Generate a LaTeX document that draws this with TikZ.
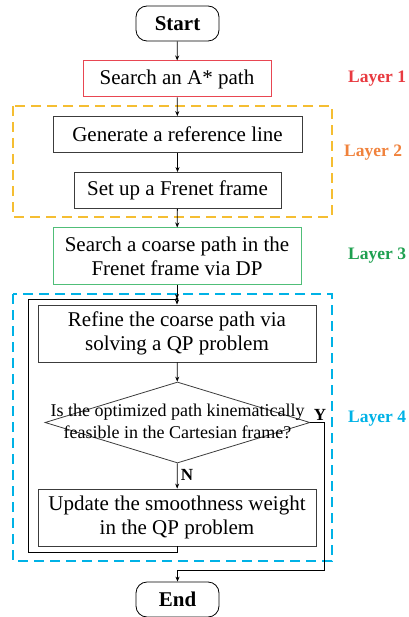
\documentclass[tikz,border=0pt]{standalone}
\usepackage{fontspec}
\setmainfont{Liberation Serif}
\usetikzlibrary{arrows.meta,shapes.geometric}
\definecolor{lred}{RGB}{232,58,64}
\definecolor{lredbox}{RGB}{232,70,82}
\definecolor{lorange}{RGB}{240,130,60}
\definecolor{lyellow}{RGB}{245,190,50}
\definecolor{lgreen}{RGB}{30,160,80}
\definecolor{lgreenbox}{RGB}{80,190,120}
\definecolor{lcyan}{RGB}{0,178,230}
\definecolor{lineg}{RGB}{60,60,60}
\tikzset{
  box/.style={draw=lineg, line width=0.8pt, minimum height=36pt, align=center, inner sep=0pt, font=\fontsize{21}{24}\selectfont},
  term/.style={draw=black, line width=0.8pt, rounded corners=11pt, minimum width=83pt, minimum height=35pt, font=\fontsize{21}{24}\selectfont\bfseries},
  flow/.style={draw=black, line width=0.8pt, -{Stealth[length=5pt,width=4pt]}},
  plain/.style={draw=black, line width=0.8pt},
  layer/.style={font=\fontsize{17.5}{21}\selectfont\bfseries, anchor=west, inner sep=0pt},
  group/.style={dashed, dash pattern=on 10pt off 6pt, line width=1.3pt}
}
\begin{document}
\begin{tikzpicture}[x=1pt,y=-1pt]
\useasboundingbox (0,0) rectangle (408,617);
% group frames
\draw[group, draw=lyellow] (13,106) rectangle (332,217);
\draw[group, draw=lcyan] (13,294) rectangle (332,561);
% nodes
\node[term] (start) at (177.5,23.5) {Start};
\node[box, draw=lredbox, line width=1pt, minimum width=188pt] (astar) at (177,79) {Search an A* path};
\node[box, minimum width=249pt] (refl) at (177.5,134.5) {Generate a reference line};
\node[box, minimum width=207pt] (fren) at (177.5,190.5) {Set up a Frenet frame};
\node[box, draw=lgreenbox, line width=1pt, minimum width=248pt, minimum height=56pt] (dp) at (177,256) {Search a coarse path in the\\Frenet frame via DP};
\node[box, minimum width=278pt, minimum height=57pt] (qp) at (177,333.5) {Refine the coarse path via\\solving a QP problem};
\node[diamond, draw=lineg, line width=0.8pt, minimum width=265pt, minimum height=81pt, aspect=3.3, inner sep=0pt] (chk) at (177.5,422.5) {};
\node[font=\fontsize{18}{22}\selectfont, align=center] (chktxt) at (177.5,421) {Is the optimized path kinematically\\feasible in the Cartesian frame?};
\node[box, minimum width=278pt, minimum height=57pt] (upd) at (177,517.5) {Update the smoothness weight\\in the QP problem};
\node[term] (end) at (177.5,599.5) {End};
% layer labels
\node[layer, text=lred] (l1) at (348,79) {Layer 1};
\node[layer, text=lorange] (l2) at (344,153) {Layer 2};
\node[layer, text=lgreen] (l3) at (348,256) {Layer 3};
\node[layer, text=lcyan] (l4) at (348,419) {Layer 4};
% branch labels
\node[font=\fontsize{17}{20}\selectfont\bfseries] (ylab) at (320,415) {Y};
\node[font=\fontsize{17}{20}\selectfont\bfseries] (nlab) at (187,475) {N};
% connection points
\coordinate (join) at (177,299);
\coordinate (lb) at (28,552);
\coordinate (lt) at (28,299);
\coordinate (rt) at (324,422.5);
\coordinate (rb) at (324,570);
% connectors
\draw[flow] (start) -- (astar);
\draw[flow] (astar) -- (refl);
\draw[flow] (refl) -- (fren);
\draw[flow] (fren) -- (dp);
\draw[flow] (dp) -- (join);
\draw[flow] (join) -- (qp);
\draw[flow] (qp) -- (chk);
\draw[flow] (chk) -- (upd);
\draw[plain] (upd.south) |- (lb) -- (lt) -- (join);
\fill (join) circle (1.6pt);
\draw[flow] (chk.east) -- (rt) -- (rb) -| (end.north);
\end{tikzpicture}
\end{document}
